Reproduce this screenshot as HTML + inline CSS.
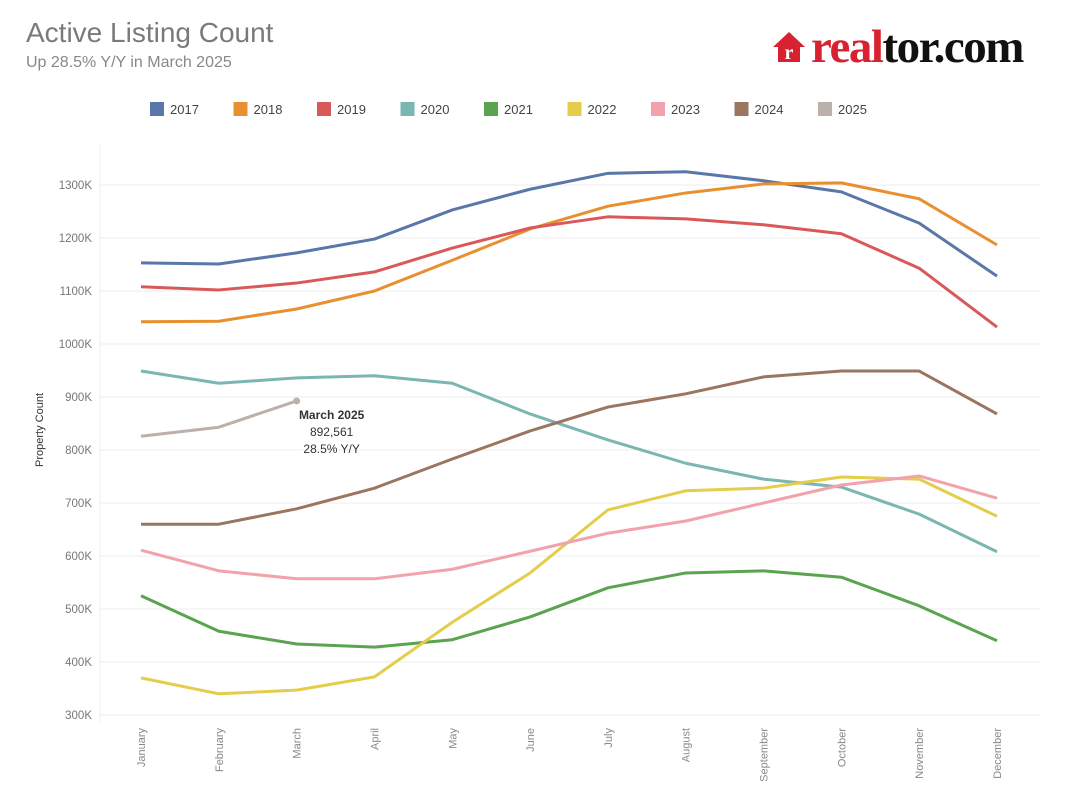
<!DOCTYPE html>
<html><head><meta charset="utf-8"><style>
body{margin:0;background:#fff;font-family:"Liberation Sans",sans-serif;}
#wrap{position:relative;width:1074px;height:806px;overflow:hidden}
</style></head><body><div id="wrap">
<div style="position:absolute;left:26px;top:17px;font-size:28px;color:#7a7a7a">Active Listing Count</div>
<div style="position:absolute;left:26px;top:54px;font-size:16px;color:#888">Up 28.5% Y/Y in March 2025</div>
<div style="position:absolute;left:772px;top:20px;height:54px;display:flex;align-items:center">
<svg width="34" height="34" viewBox="0 0 34 34"><polygon points="17,2 33,17 28,17 28,32 6,32 6,17 1,17" fill="#d92231"/><text x="17" y="29" text-anchor="middle" font-family="Liberation Serif" font-weight="bold" font-size="20" fill="#fff">r</text></svg>
<span style="font-family:'Liberation Serif',serif;font-size:47px;font-weight:bold;letter-spacing:-1.5px;margin-left:5px"><span style="color:#d92231">real</span><span style="color:#111">tor.com</span></span></div>
<svg id="chart" width="1074" height="806" style="position:absolute;left:0;top:0"></svg>
</div>
<script>
const months=["January","February","March","April","May","June","July","August","September","October","November","December"];
const years=["2017","2018","2019","2020","2021","2022","2023","2024","2025"];
const colors=["#5a77a9","#e8902f","#d9595a","#7bb6b1","#5aa34f","#e5cd4c","#f2a2ab","#9a7560","#bbb0aa"];
const s2017=[1153,1151,1172,1198,1253,1292,1322,1325,1308,1287,1228,1128];
const s2018=[1042,1043,1066,1100,1158,1217,1260,1285,1302,1304,1274,1187];
const s2019=[1108,1102,1115,1136,1181,1219,1240,1236,1225,1208,1143,1032];
const s2020=[949,926,936,940,926,868,819,775,745,730,679,608];
const s2021=[525,458,434,428,442,485,540,568,572,560,506,440];
const s2022=[370,340,347,372,475,568,687,723,728,749,745,675];
const s2023=[611,572,557,557,575,609,643,666,700,734,751,709];
const s2024=[660,660,689,728,783,836,881,906,938,949,949,868];
const s2025=[826,843,892.561];
const yTicks=[300,400,500,600,700,800,900,1000,1100,1200,1300];
const series=[s2017,s2018,s2019,s2020,s2021,s2022,s2023,s2024,s2025];
const NS="http://www.w3.org/2000/svg";
const svg=document.getElementById("chart");
const X=i=>141+i*(997-141)/11;
const Y=v=>185+(1300-v)*0.53;
function mk(t,a,p){const e=document.createElementNS(NS,t);for(const k in a)e.setAttribute(k,a[k]);(p||svg).appendChild(e);return e;}
mk("line",{x1:100,y1:145,x2:100,y2:722,stroke:"#eee"});
yTicks.forEach(v=>{
 const g=mk("line",{x1:100,x2:1040,y1:Y(v),y2:Y(v),stroke:"#eee"});
 
 
 const t=mk("text",{x:92,y:Y(v)+4,"text-anchor":"end","font-size":"11.5",fill:"#777","font-family":"Liberation Sans"});
 t.textContent=v+"K";
 
 
});
const yt=mk("text",{x:0,y:0,transform:"translate(43,430) rotate(-90)","text-anchor":"middle","font-size":"11",fill:"#333"});
yt.textContent="Property Count";


months.forEach((m,i)=>{
 const t=mk("text",{transform:`translate(${X(i)+4},728) rotate(-90)`,"text-anchor":"end","font-size":"11",fill:"#888"});
 t.textContent=m;
 
 
});
series.forEach((s,k)=>{
 const p=mk("polyline",{points:s.map((v,i)=>X(i)+","+Y(v)).join(" "),fill:"none",stroke:colors[k],"stroke-width":3,"stroke-linejoin":"round"});
 
 
});
const last=s2025.length-1;
const dot=mk("circle",{cx:X(last),cy:Y(s2025[last]),r:3.5,fill:colors[8]});


const ann=["March 2025",Math.round(s2025[last]*1000).toLocaleString("en-US"),"28.5% Y/Y"];
ann.forEach((a,i)=>{
 const t=mk("text",{x:X(last)+35,y:Y(s2025[last])+18+i*17,"text-anchor":"middle","font-size":"12",fill:"#333","font-weight":i==0?"bold":"normal"});
 t.textContent=a;
 
 
});
years.forEach((y,k)=>{
 const x=150+k*83.5;
 const r=mk("rect",{x:x,y:102,width:14,height:14,fill:colors[k]});
 
 
 const t=mk("text",{x:x+20,y:114,"font-size":"13",fill:"#444"});
 t.textContent=y;
 
 
});
</script></body></html>
